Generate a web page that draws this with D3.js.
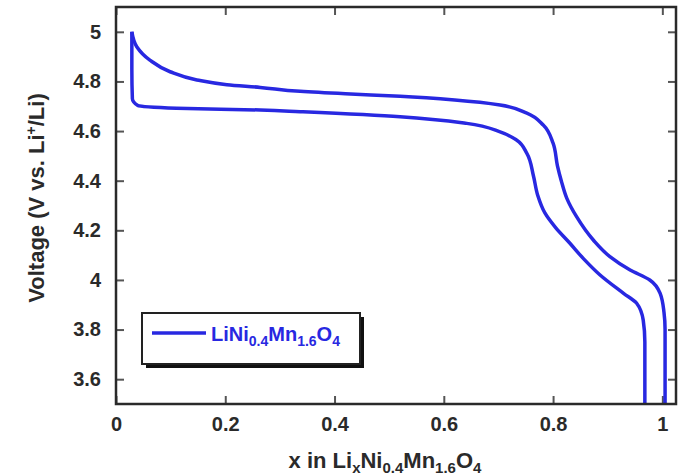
<!DOCTYPE html>
<html>
<head>
<meta charset="utf-8">
<script src="https://cdn.jsdelivr.net/npm/d3@7"></script>
<style>
  body { margin: 0; background: #fff; }
  svg text { font-family: "Liberation Sans", Arial, sans-serif; font-weight: bold; }
</style>
</head>
<body>
<svg id="chart" width="684" height="475"></svg>
<script>
// charge branch (upper curve), x then V
var chargeX = [1.005, 1.005, 1.003, 0.996, 0.977, 0.941, 0.904, 0.874, 0.843, 0.825, 0.815, 0.808, 0.800, 0.782, 0.752, 0.703, 0.620, 0.520, 0.420, 0.337, 0.264, 0.203, 0.148, 0.099, 0.062, 0.038, 0.029];
var chargeV = [3.50, 3.80, 3.87, 3.946, 4.00, 4.04, 4.094, 4.16, 4.255, 4.33, 4.40, 4.46, 4.551, 4.624, 4.672, 4.705, 4.725, 4.74, 4.75, 4.76, 4.776, 4.787, 4.806, 4.839, 4.886, 4.94, 5.00];
// discharge branch (lower curve)
var dischX = [0.029, 0.029, 0.030, 0.040, 0.111, 0.264, 0.337, 0.520, 0.642, 0.703, 0.733, 0.752, 0.764, 0.772, 0.785, 0.805, 0.830, 0.856, 0.886, 0.929, 0.953, 0.965, 0.968, 0.968];
var dischV = [5.00, 4.85, 4.73, 4.703, 4.692, 4.685, 4.678, 4.658, 4.631, 4.597, 4.564, 4.51, 4.42, 4.34, 4.27, 4.21, 4.15, 4.085, 4.02, 3.946, 3.906, 3.838, 3.75, 3.50];

var xTicks = [0, 0.2, 0.4, 0.6, 0.8, 1];
var yTicks = [3.6, 3.8, 4, 4.2, 4.4, 4.6, 4.8, 5];

var margin = {left: 116, right: 8, top: 7, bottom: 71};
var width = 684 - margin.left - margin.right;
var height = 475 - margin.top - margin.bottom;
var ink = "#2a2a2a";
var blue = "rgb(40,40,225)";

var x = d3.scaleLinear().domain([0, 1.025]).range([0, width]);
var y = d3.scaleLinear().domain([3.5, 5.1]).range([height, 0]);

var svg = d3.select("#chart");
var g = svg.append("g").attr("transform", "translate(" + margin.left + "," + margin.top + ")");

g.append("clipPath").attr("id", "clip")
  .append("rect").attr("width", width).attr("height", height);

// inward ticks on all four sides
var tickLen = 8;
function fmt(d) { return d3.format("")(d); }
g.append("g").attr("transform", "translate(0," + height + ")")
  .call(d3.axisBottom(x).tickValues(xTicks).tickSizeInner(-tickLen).tickSizeOuter(0).tickPadding(13).tickFormat(fmt));
g.append("g")
  .call(d3.axisTop(x).tickValues(xTicks).tickSizeInner(-tickLen).tickSizeOuter(0).tickFormat(""));
g.append("g")
  .call(d3.axisLeft(y).tickValues(yTicks).tickSizeInner(-tickLen).tickSizeOuter(0).tickPadding(15).tickFormat(fmt));
g.append("g").attr("transform", "translate(" + width + ",0)")
  .call(d3.axisRight(y).tickValues(yTicks).tickSizeInner(-tickLen).tickSizeOuter(0).tickFormat(""));

g.selectAll(".domain").remove();
g.selectAll(".tick line").attr("stroke", "#555").attr("stroke-width", 2);
g.selectAll(".tick text").attr("fill", ink).attr("font-size", 20);

// both branches are monotonic in V, so interpolate along y
var line = d3.line()
  .x(function(d) { return x(d[0]); })
  .y(function(d) { return y(d[1]); })
  .curve(d3.curveMonotoneY);

var charge = chargeX.map(function(v, i) { return [v, chargeV[i]]; });
var disch = dischX.map(function(v, i) { return [v, dischV[i]]; });

g.append("g").attr("clip-path", "url(#clip)")
  .selectAll("path")
  .data([charge, disch])
  .enter()
  .append("path")
    .attr("fill", "none")
    .attr("stroke", blue)
    .attr("stroke-width", 3.5)
    .attr("stroke-linejoin", "round")
    .attr("d", line);

// frame
g.append("rect")
  .attr("width", width).attr("height", height)
  .attr("fill", "none").attr("stroke", ink).attr("stroke-width", 2.5);

// legend
var lg = svg.append("g").attr("transform", "translate(142,313)");
lg.append("rect").attr("x", 4).attr("y", 4).attr("width", 218).attr("height", 51).attr("fill", "#111");
lg.append("rect").attr("width", 218).attr("height", 51).attr("fill", "#fff").attr("stroke", "#222").attr("stroke-width", 2);
lg.append("line").attr("x1", 10).attr("x2", 64).attr("y1", 20).attr("y2", 20)
  .attr("stroke", blue).attr("stroke-width", 3.5);
var lt = lg.append("text").attr("x", 69).attr("y", 28).attr("fill", blue).attr("font-size", 20);
lt.append("tspan").text("LiNi");
lt.append("tspan").attr("font-size", 14).attr("dy", 5).text("0.4");
lt.append("tspan").attr("dy", -5).text("Mn");
lt.append("tspan").attr("font-size", 14).attr("dy", 5).text("1.6");
lt.append("tspan").attr("dy", -5).text("O");
lt.append("tspan").attr("font-size", 14).attr("dy", 5).text("4");

// axis titles
var xt = svg.append("text").attr("x", 385).attr("y", 468)
  .attr("text-anchor", "middle").attr("fill", ink).attr("font-size", 22);
xt.append("tspan").text("x in Li");
xt.append("tspan").attr("font-size", 15).attr("dy", 5).text("x");
xt.append("tspan").attr("dy", -5).text("Ni");
xt.append("tspan").attr("font-size", 15).attr("dy", 5).text("0.4");
xt.append("tspan").attr("dy", -5).text("Mn");
xt.append("tspan").attr("font-size", 15).attr("dy", 5).text("1.6");
xt.append("tspan").attr("dy", -5).text("O");
xt.append("tspan").attr("font-size", 15).attr("dy", 5).text("4");

var yt = svg.append("text")
  .attr("transform", "translate(44,198) rotate(-90)")
  .attr("text-anchor", "middle").attr("fill", ink).attr("font-size", 22);
yt.append("tspan").text("Voltage (V vs. Li");
yt.append("tspan").attr("font-size", 14).attr("dy", -8).text("+");
yt.append("tspan").attr("dy", 8).text("/Li)");
</script>
</body>
</html>
